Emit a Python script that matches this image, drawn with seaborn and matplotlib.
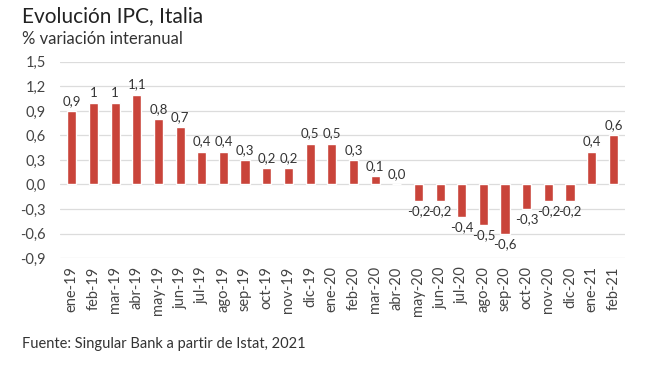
import pandas as pd
import numpy as np
import seaborn as sns
import matplotlib.pyplot as plt

# data
meses = ['ene-19', 'feb-19', 'mar-19', 'abr-19', 'may-19', 'jun-19', 'jul-19',
         'ago-19', 'sep-19', 'oct-19', 'nov-19', 'dic-19', 'ene-20', 'feb-20',
         'mar-20', 'abr-20', 'may-20', 'jun-20', 'jul-20', 'ago-20', 'sep-20',
         'oct-20', 'nov-20', 'dic-20', 'ene-21', 'feb-21']
ipc = [0.9, 1.0, 1.0, 1.1, 0.8, 0.7, 0.4, 0.4, 0.3, 0.2, 0.2, 0.5, 0.5, 0.3,
       0.1, 0.0, -0.2, -0.2, -0.4, -0.5, -0.6, -0.3, -0.2, -0.2, 0.4, 0.6]
etiquetas = ['0,9', '1', '1', '1,1', '0,8', '0,7', '0,4', '0,4', '0,3', '0,2',
             '0,2', '0,5', '0,5', '0,3', '0,1', '0,0', '-0,2', '-0,2', '-0,4',
             '-0,5', '-0,6', '-0,3', '-0,2', '-0,2', '0,4', '0,6']
yticks = [-0.9, -0.6, -0.3, 0.0, 0.3, 0.6, 0.9, 1.2, 1.5]
ytick_labels = ['-0,9', '-0,6', '-0,3', '0,0', '0,3', '0,6', '0,9', '1,2', '1,5']

df = pd.DataFrame({'mes': meses, 'ipc': ipc})

sns.set_style('white')
plt.rcParams['font.family'] = ['Lato', 'DejaVu Sans']

fig = plt.figure(figsize=(6.5, 3.66), dpi=100)
ax = fig.add_axes([0.092, 0.295, 0.87, 0.536])

sns.barplot(data=df, x='mes', y='ipc', color='#c9443a', saturation=1,
            width=0.42, ax=ax)

# value labels (above for positive, below for negative)
ax.bar_label(ax.containers[0], labels=etiquetas, padding=3, fontsize=9.5,
             color='#333333')

ax.set_ylim(-0.9, 1.5)
ax.set_yticks(yticks)
ax.set_yticklabels(ytick_labels)
ax.set_xlim(-0.55, len(meses) - 0.45)
ax.grid(axis='y', color='#dcdcdc', linewidth=0.9)
ax.set_axisbelow(True)
for s in ax.spines.values():
    s.set_visible(False)
ax.set_xlabel('')
ax.set_ylabel('')
ax.tick_params(axis='x', rotation=90, labelsize=10.5, colors='#444444', length=0, pad=6)
ax.tick_params(axis='y', labelsize=10.5, colors='#444444', length=0, pad=10)

fig.text(0.034, 0.94, 'Evolución IPC, Italia', fontsize=15, color='#222222')
fig.text(0.034, 0.88, '% variación interanual', fontsize=12, color='#333333')
fig.text(0.034, 0.05, 'Fuente: Singular Bank a partir de Istat, 2021', fontsize=10.5,
         color='#333333')

fig.savefig('out.png', dpi=100)
